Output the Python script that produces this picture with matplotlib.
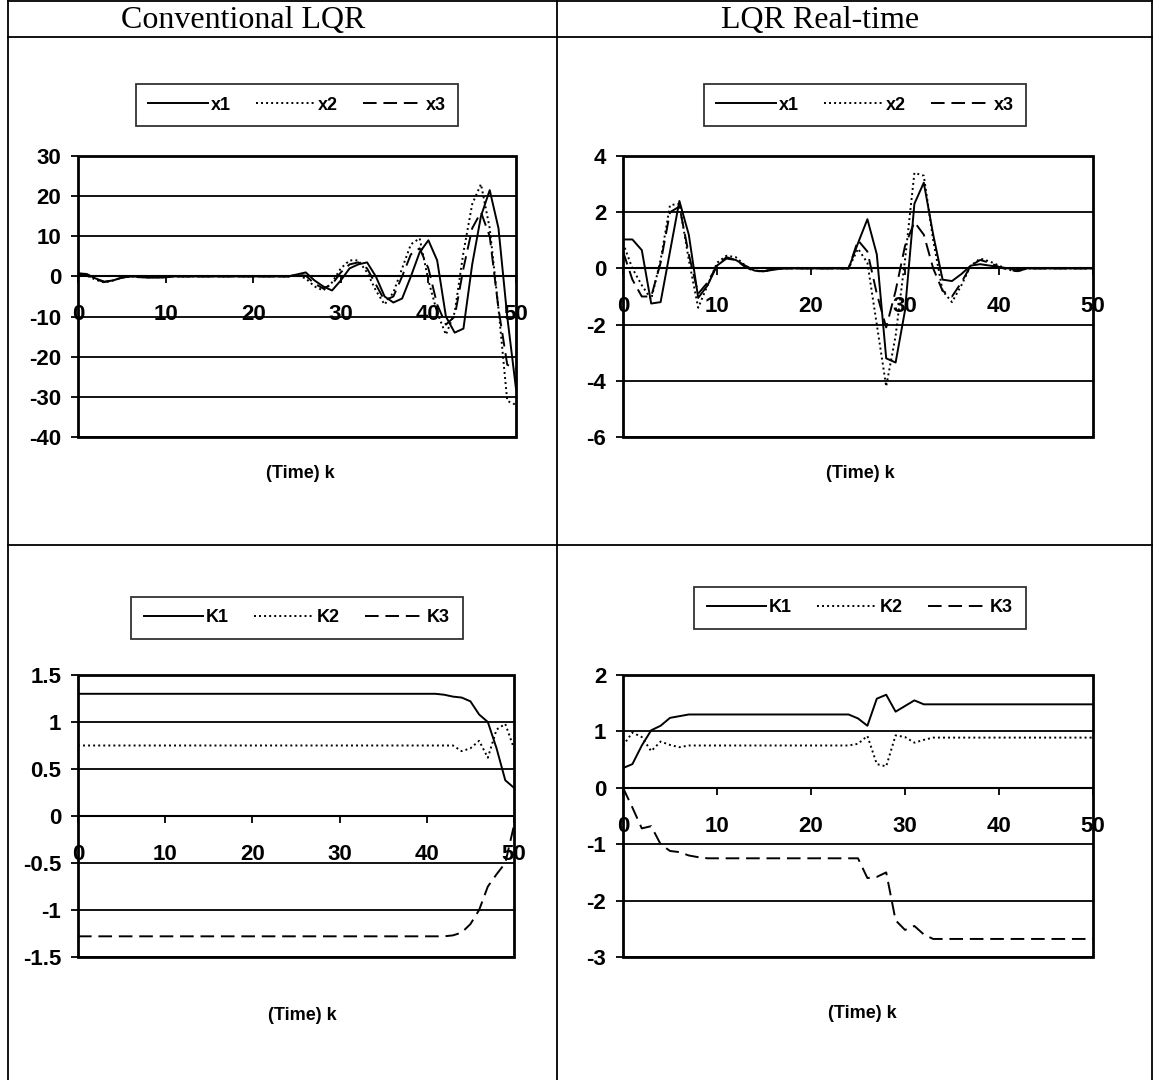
import matplotlib
matplotlib.use("Agg")
import matplotlib.pyplot as plt
from matplotlib.lines import Line2D
from matplotlib.patches import Rectangle
from matplotlib.ticker import FuncFormatter, MultipleLocator
import numpy as np

k = list(range(51))

# Conventional LQR states
conv_x1 = [0.8, 0.6, -0.5, -1.3, -1.0, -0.3, 0.0, -0.1, -0.3, -0.3, -0.2] + [0.0] * 14 + \
          [0.5, 1.0, -1.0, -2.5, -3.5, -1.0, 2.0, 3.0, 3.5, 0.0, -5.0, -6.5, -5.5, 0.0, 6.0, 9.0,
           4.0, -10.0, -14.0, -13.0, 3.0, 15.0, 21.5, 12.0, -10.0, -28.0]
conv_x2 = [0.5, 0.2, -0.8, -1.5, -1.0, -0.3, 0.0, -0.2, -0.2, -0.2, -0.2] + [0.0] * 14 + \
          [0.3, -0.5, -2.5, -3.5, -1.5, 2.0, 4.0, 4.0, 1.0, -3.5, -7.0, -4.0, 2.0, 8.0, 9.5,
           -1.0, -9.0, -14.5, -9.0, 6.0, 18.0, 23.0, 12.0, -8.0, -31.0, -32.0]
conv_x3 = [0.6, 0.4, -0.7, -1.4, -1.0, -0.3, 0.0, -0.2, -0.2, -0.2, -0.2] + [0.0] * 14 + \
          [0.4, 0.2, -1.8, -3.0, -2.0, 1.0, 3.0, 3.5, 2.0, -2.0, -6.0, -5.0, 0.0, 5.5, 7.0,
           2.0, -7.0, -12.0, -10.0, 2.0, 12.0, 16.0, 10.0, -8.0, -22.0, -23.0]

# LQR real-time states
rt_x1 = [1.03, 1.03, 0.65, -1.25, -1.2, 0.6, 2.4, 1.2, -1.05, -0.6, 0.1, 0.35, 0.3, 0.1, -0.08,
         -0.1, -0.05] + [0.0] * 8 + \
        [0.9, 1.75, 0.5, -3.2, -3.35, -1.5, 2.3, 3.05, 1.2, -0.4, -0.45, -0.2, 0.1, 0.15, 0.1,
         0.05, 0.0, -0.05, 0.0] + [0.0] * 7
rt_x2 = [0.9, 0.0, -0.6, -1.1, 0.3, 2.25, 2.3, 0.3, -1.4, -0.6, 0.2, 0.45, 0.4, 0.1, -0.08,
         -0.1, -0.03] + [0.0] * 8 + \
        [0.7, 0.2, -2.0, -4.2, -2.4, 0.3, 3.4, 3.3, 1.0, -0.8, -1.2, -0.6, 0.1, 0.35, 0.25,
         0.1, -0.05, -0.1, 0.0] + [0.0] * 7
rt_x3 = [0.6, -0.4, -1.0, -1.0, 0.2, 2.0, 2.2, 0.5, -0.9, -0.5, 0.1, 0.4, 0.3, 0.05, -0.1,
         -0.1, -0.03] + [0.0] * 8 + \
        [1.0, 0.6, -0.9, -2.1, -0.8, 0.8, 1.65, 1.2, 0.0, -0.8, -1.0, -0.5, 0.1, 0.3, 0.2,
         0.05, -0.05, -0.1, 0.0] + [0.0] * 7

# Conventional LQR gains
conv_K1 = [1.3] * 42 + [1.29, 1.27, 1.26, 1.22, 1.08, 1.0, 0.72, 0.38, 0.3]
conv_K2 = [0.75] * 44 + [0.69, 0.72, 0.8, 0.62, 0.92, 0.98, 0.72]
conv_K3 = [-1.28] * 43 + [-1.27, -1.24, -1.15, -1.0, -0.75, -0.62, -0.5, -0.1]

# LQR real-time gains
rt_K1 = [0.35, 0.42, 0.75, 1.02, 1.1, 1.24, 1.27, 1.3] + [1.3] * 17 + \
        [1.23, 1.1, 1.58, 1.65, 1.35, 1.45, 1.55, 1.48] + [1.48] * 18
rt_K2 = [0.75, 0.98, 0.9, 0.65, 0.82, 0.76, 0.72, 0.75] + [0.75] * 17 + \
        [0.78, 0.92, 0.42, 0.38, 0.93, 0.9, 0.8, 0.85] + [0.89] * 18
rt_K3 = [0.0, -0.35, -0.72, -0.68, -1.0, -1.12, -1.14, -1.2, -1.23] + [-1.25] * 17 + \
        [-1.6, -1.58, -1.5, -2.35, -2.52, -2.45, -2.6, -2.68] + [-2.68] * 17

titles = ["Conventional LQR", "LQR Real-time"]
state_names = ["x1", "x2", "x3"]
gain_names = ["K1", "K2", "K3"]

W, H = 1159, 1080
fig = plt.figure(figsize=(W / 100, H / 100), dpi=100)
fig.patch.set_facecolor("white")

sans = ["Liberation Sans", "DejaVu Sans"]
serif = ["Liberation Serif", "DejaVu Serif"]

styles = ["-", (0, (1, 1.6)), (0, (7, 3.5))]


def fx(px):
    return px / W


def fy(py):
    return 1 - py / H


def make_axes(l, r, t, b):
    return fig.add_axes([fx(l), fy(b), fx(r) - fx(l), fy(t) - fy(b)])


def style_axes(ax, ylo, yhi, ystep):
    ax.set_xlim(0, 50)
    ax.set_ylim(ylo, yhi)
    ax.xaxis.set_major_locator(MultipleLocator(10))
    ax.yaxis.set_major_locator(MultipleLocator(ystep))
    ax.yaxis.set_major_formatter(FuncFormatter(lambda v, p: f"{v:g}"))
    ax.xaxis.set_major_formatter(FuncFormatter(lambda v, p: f"{v:g}"))
    for s in ["top", "right", "left"]:
        ax.spines[s].set_visible(False)
    ax.spines["bottom"].set_position(("data", 0))
    ax.spines["bottom"].set_linewidth(1.5)
    ax.add_patch(Rectangle((0, 0), 1, 1, transform=ax.transAxes, fill=False,
                           lw=2, ec="black", clip_on=False, zorder=5))
    ax.grid(axis="y", color="black", lw=1.3)
    ax.set_axisbelow(True)
    ax.tick_params(axis="x", direction="out", length=5, width=1.3, pad=15)
    ax.tick_params(axis="y", direction="out", length=5, width=1.3, pad=7)
    for lab in ax.get_xticklabels() + ax.get_yticklabels():
        lab.set_family(sans)
        lab.set_fontsize(16)
        lab.set_weight("bold")


def plot_series(ax, series, names, legend_c):
    for y, st, nm in zip(series, styles, names):
        ax.plot(k, y, color="black", lw=1.4, linestyle=st, label=nm, zorder=3)
    leg = ax.legend(loc="center", bbox_to_anchor=(fx(legend_c[0]), fy(legend_c[1])),
                    bbox_transform=fig.transFigure, ncol=3, frameon=True, fancybox=False,
                    edgecolor="black", handlelength=3.3, handletextpad=0.15, columnspacing=1.4,
                    borderpad=0.7, prop={"family": sans, "weight": "bold", "size": 13})
    leg.get_frame().set_linewidth(1.3)


# top-left
ax1 = make_axes(78, 516, 156, 437)
style_axes(ax1, -40, 30, 10)
plot_series(ax1, [conv_x1, conv_x2, conv_x3], state_names, (297, 105))

# top-right
ax2 = make_axes(623, 1093, 156, 437)
style_axes(ax2, -6, 4, 2)
plot_series(ax2, [rt_x1, rt_x2, rt_x3], state_names, (865, 105))

# bottom-left
ax3 = make_axes(78, 514, 675, 957)
style_axes(ax3, -1.5, 1.5, 0.5)
plot_series(ax3, [conv_K1, conv_K2, conv_K3], gain_names, (297, 618))

# bottom-right
ax4 = make_axes(623, 1093, 675, 957)
style_axes(ax4, -3, 2, 1)
plot_series(ax4, [rt_K1, rt_K2, rt_K3], gain_names, (860, 608))

# x labels
for (cx, cy) in [(300, 474), (860, 474), (302, 1015), (862, 1013)]:
    fig.text(fx(cx), fy(cy), "(Time) k", ha="center", va="center",
             family=sans, weight="bold", fontsize=13)

# header titles
fig.text(fx(243), fy(28), titles[0], ha="center", va="baseline", family=serif, fontsize=23)
fig.text(fx(820), fy(28), titles[1], ha="center", va="baseline", family=serif, fontsize=23)

# table lines
tl = dict(color="black", lw=1.3, transform=fig.transFigure)
fig.add_artist(Line2D([fx(8), fx(1152)], [fy(1), fy(1)], **tl))
fig.add_artist(Line2D([fx(8), fx(1152)], [fy(37), fy(37)], **tl))
fig.add_artist(Line2D([fx(8), fx(1152)], [fy(545), fy(545)], **tl))
fig.add_artist(Line2D([fx(8), fx(8)], [fy(1), fy(1080)], **tl))
fig.add_artist(Line2D([fx(557), fx(557)], [fy(1), fy(1080)], **tl))
fig.add_artist(Line2D([fx(1152), fx(1152)], [fy(1), fy(1080)], **tl))

fig.savefig("out.png", dpi=100)
